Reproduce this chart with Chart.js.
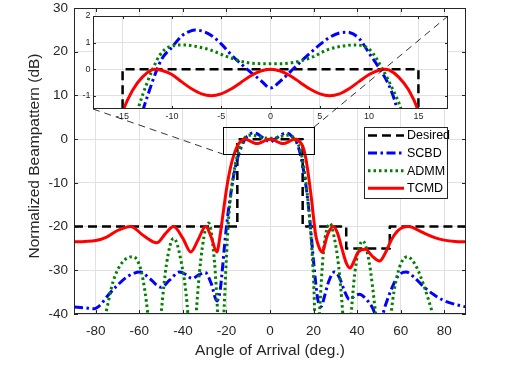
<!DOCTYPE html>
<html><head><meta charset="utf-8">
<script src="https://cdn.jsdelivr.net/npm/chart.js@4/dist/chart.umd.min.js"></script>
<style>
html,body{margin:0;padding:0;background:#fff;}
#wrap{position:relative;width:505px;height:367px;}
#wrap canvas{position:absolute;left:0;top:0;}
</style></head><body>
<div id="wrap"><canvas id="main" width="505" height="367"></canvas><canvas id="inset" width="505" height="367"></canvas></div>
<script>
// ---------- data ----------
const xTicks = [-80,-60,-40,-20,0,20,40,60,80];
const yTicks = [-40,-30,-20,-10,0,10,20,30];
const insetXTicks = [-15,-10,-5,0,5,10,15];
const insetYTicks = [-1,0,1,2];
const seriesNames = ['Desired','SCBD','ADMM','TCMD'];
const xTitle = 'Angle of Arrival (deg.)';
const yTitle = 'Normalized Beampattern (dB)';

const desiredAngles = [-90,-15,-15,15,15,35,35,55,55,90];
const desiredDb     = [-20,-20,0,0,-20,-20,-25,-25,-20,-20];

const scbdAngles = [-90,-85,-81,-78,-75,-70,-65,-59.6,-55,-50.1,-46,-41.6,-38.5,-35.9,-32.5,-29.8,-27,-24.4,-23,-22,-21,-20,-19,-18,-17,-16,-15,-14,-12.9,-12,-11.5,-11,-10,-9,-8,-7.66,-7,-6,-5,-4,-3,-2,-1,0,1,2,3,4,5,6,7,7.7,8,9,10,11,12,12.8,14,15,16,17,18,19,20,21,22,23.5,25,27,29.6,32,34,36.5,39,41.1,44,47,50.3,53,56,59,62.5,66,70,75,79.3,85,90];
const scbdDb = [-38.4,-38.6,-38.8,-38.0,-36.1,-33.4,-31.3,-30.4,-32.0,-33.9,-32.2,-30.4,-31.0,-31.9,-31.0,-30.5,-33.0,-37.0,-35.0,-30.5,-25.0,-20.0,-16.0,-12.5,-9.2,-6.6,-4.5,-2.9,-1.5,-0.5,0,0.4,0.82,1.25,1.45,1.47,1.44,1.27,0.95,0.55,0.2,-0.12,-0.42,-0.71,-0.45,-0.1,0.26,0.6,0.92,1.2,1.36,1.39,1.38,1.15,0.6,0.05,-0.6,-1.45,-3.6,-6.0,-9.0,-12.5,-17.0,-22.5,-28.0,-33.0,-36.8,-38.3,-36.0,-32.5,-30.4,-31.8,-34.5,-36.7,-35.8,-35.5,-36.5,-38.5,-42.0,-38.0,-34.0,-31.2,-30.4,-31.5,-33.5,-35.5,-36.8,-37.8,-38.4];

const admmAngles = [-90,-85,-80,-75.5,-72,-68,-63,-59,-56.1,-53,-50,-47.5,-44.3,-41,-37.7,-35.8,-33.9,-31,-28.2,-25.5,-24,-22.4,-21,-20,-19,-18,-17,-16,-15,-14,-13.4,-12.5,-11.9,-11.2,-10.2,-8.7,-7.5,-6.1,-4.4,-2.4,0,2.3,4.35,5.7,7.2,8.6,10.1,11.3,12.5,13.2,14,15,16,17,18,19,20,21.5,22.7,24.5,26,27.6,29.5,31.5,33.4,35.3,37.3,39.5,42.6,45.5,48.5,52.5,55.6,58.5,63,67,71,74.7,80,85,90];
const admmDb = [-62,-56,-48,-40,-32.5,-28.3,-26.9,-30.5,-40,-58,-40,-28.5,-22.7,-27.5,-40,-58,-40,-24.5,-19.2,-28,-40,-55,-38,-27,-18,-12.8,-9.0,-6.0,-3.8,-2.3,-1.46,-0.5,0.04,0.54,0.85,0.91,0.85,0.72,0.47,0.25,0.2,0.25,0.47,0.72,0.86,0.91,0.72,0.04,-0.84,-1.46,-2.6,-4.8,-8.0,-12.0,-17.0,-23.5,-32,-52,-40,-26,-20.8,-19.3,-22.5,-29,-40,-58,-40,-28.5,-23.3,-28,-40,-60,-40,-31,-26.9,-29,-34,-40,-50,-57,-62];

const tcmdAngles = [-90,-85,-80,-75,-70,-64,-58,-52,-48,-44.3,-40,-36.4,-33,-29.5,-27,-24.4,-23,-22,-21,-20,-19,-18,-17,-16,-15,-14,-13,-12,-11.7,-11,-10,-9,-8,-7,-6,-5,-4,-3,-2,-1,0,1,2,3,4,5,6,7,8,9,10,11,11.6,12,13,14,15,16,17,18,19,20,21,22,23,24.1,25,26.5,29.1,31,33,35,36.8,38.5,40.5,43.8,47,50.3,53,56,59,63.6,68,72,76,80,85,90];
const tcmdDb = [-23.5,-23.4,-23.2,-22.4,-20.9,-20.0,-22.1,-23.7,-21.6,-20.0,-22.7,-25.8,-23.0,-19.9,-22.4,-25.8,-22.3,-18.7,-15.0,-11.5,-8.6,-6.2,-4.3,-2.8,-1.6,-0.8,-0.3,-0.02,0,-0.05,-0.2,-0.48,-0.74,-0.93,-1.0,-0.93,-0.75,-0.5,-0.25,-0.07,0,-0.07,-0.25,-0.5,-0.75,-0.93,-1.0,-0.93,-0.73,-0.46,-0.2,-0.04,0,-0.03,-0.3,-0.78,-1.6,-3.3,-6.0,-9.6,-13.5,-18.0,-22.0,-24.0,-25.3,-25.9,-24.4,-21.8,-20.0,-21.5,-25.0,-28.3,-29.5,-28.0,-25.8,-25.2,-26.8,-27.9,-26.0,-22.8,-20.8,-20.0,-20.8,-21.8,-22.6,-23.1,-23.4,-23.5];

// ---------- styling ----------
const FONT = '"Liberation Sans", Arial, Helvetica, sans-serif';
const TXT = '#262626';
const GRID = '#e1e1e1';
const styles = [
  {color:'#000000', width:2.5, dash:[9,5], smooth:false},
  {color:'#0000ff', width:3, dash:[9,3.5,2.5,3.5], smooth:true},
  {color:'#008000', width:3, dash:[2.5,3], smooth:true},
  {color:'#ff0000', width:3, dash:[], smooth:true}
];
const zoomBox = {x0:-21.7, x1:20.1, y0:-3.4, y1:2.7};

function makeDatasets(){
  const src = [[desiredAngles,desiredDb],[scbdAngles,scbdDb],[admmAngles,admmDb],[tcmdAngles,tcmdDb]];
  return src.map(([a,v],i)=>({
    label: seriesNames[i],
    data: a.map((x,k)=>({x:x, y:v[k]})),
    borderColor: styles[i].color,
    backgroundColor: styles[i].color,
    borderWidth: styles[i].width,
    borderDash: styles[i].dash,
    borderCapStyle: 'butt',
    borderJoinStyle: 'round',
    pointRadius: 0,
    fill: false,
    tension: 0,
    cubicInterpolationMode: styles[i].smooth ? 'monotone' : 'default',
    order: 3 - i,
    clip: 0
  }));
}

const boxPlugin = {
  id: 'boxTicks',
  afterDatasetsDraw(chart, args, opts){
    const {ctx, chartArea:a, scales:{x, y}} = chart;
    const L = opts.tickLen || 4;
    ctx.save();
    ctx.setLineDash([]);
    ctx.strokeStyle = opts.color || TXT;
    ctx.lineWidth = 1;
    ctx.beginPath();
    x.ticks.forEach(t=>{
      const p = Math.round(x.getPixelForValue(t.value)) + 0.5;
      ctx.moveTo(p, a.bottom); ctx.lineTo(p, a.bottom - L);
      ctx.moveTo(p, a.top); ctx.lineTo(p, a.top + L);
    });
    y.ticks.forEach(t=>{
      const p = Math.round(y.getPixelForValue(t.value)) + 0.5;
      ctx.moveTo(a.left, p); ctx.lineTo(a.left + L, p);
      ctx.moveTo(a.right, p); ctx.lineTo(a.right - L, p);
    });
    ctx.stroke();
    ctx.strokeRect(Math.round(a.left)+0.5, Math.round(a.top)+0.5, Math.round(a.right-a.left)-1, Math.round(a.bottom-a.top)-1);
    ctx.restore();
  }
};

const mainOverlay = {
  id: 'mainOverlay',
  afterDraw(chart){
    const {ctx, chartArea:a, scales:{x, y}} = chart;
    ctx.save();
    ctx.setLineDash([]);
    // y-axis title
    ctx.save();
    ctx.translate(35, (a.top + a.bottom)/2 - 5);
    ctx.rotate(-Math.PI/2);
    ctx.font = '15.5px ' + FONT; ctx.fillStyle = TXT;
    ctx.textAlign = 'center'; ctx.textBaseline = 'middle';
    ctx.fillText(yTitle, 0, 0);
    ctx.restore();
    // zoom rectangle
    ctx.strokeStyle = '#000'; ctx.lineWidth = 1;
    const rx0 = Math.round(x.getPixelForValue(zoomBox.x0))+0.5, rx1 = Math.round(x.getPixelForValue(zoomBox.x1))+0.5;
    const ry0 = Math.round(y.getPixelForValue(zoomBox.y1))+0.5, ry1 = Math.round(y.getPixelForValue(zoomBox.y0))+0.5;
    ctx.strokeRect(rx0, ry0, rx1-rx0, ry1-ry0);
    // legend
    const lx = Math.round(a.right) - 102, ly = Math.round(a.top) + 119, lw = 83, lh = 71;
    ctx.fillStyle = '#fff';
    ctx.fillRect(lx, ly, lw, lh);
    ctx.strokeStyle = TXT; ctx.lineWidth = 1;
    ctx.strokeRect(lx+0.5, ly+0.5, lw, lh);
    ctx.font = '12.5px ' + FONT;
    ctx.textBaseline = 'middle';
    ctx.textAlign = 'left';
    chart.data.datasets.forEach((ds, i)=>{
      const cy = ly + 8.5 + i*17.6;
      ctx.strokeStyle = ds.borderColor;
      ctx.lineWidth = ds.borderWidth;
      ctx.setLineDash(ds.borderDash);
      ctx.lineCap = 'butt';
      ctx.beginPath(); ctx.moveTo(lx+4, cy); ctx.lineTo(lx+40, cy); ctx.stroke();
      ctx.setLineDash([]);
      ctx.fillStyle = '#000';
      ctx.fillText(ds.label, lx+43, cy+0.5);
    });
    ctx.restore();
  }
};

function scaleCommon(ticksArr, size, pad, fit, isX){
  return {
    type: 'linear',
    afterBuildTicks: s=>{ s.ticks = ticksArr.map(v=>({value:v})); },
    afterFit: s=>{ if(isX) s.height = fit; else s.width = fit; },
    grid: {color: GRID, lineWidth: 1, drawTicks: false},
    border: {display: false},
    ticks: {color: TXT, font: {family: FONT, size: size, lineHeight: isX ? 1.1 : 0.1}, padding: pad, maxRotation: 0, autoSkip: false}
  };
}

const mx = scaleCommon(xTicks, 13.5, 10, 53, true);
mx.min = -90; mx.max = 90;
mx.title = {display: true, text: xTitle, color: TXT, font: {family: FONT, size: 15.5}, padding: {top: 0, bottom: 6.7}};
const my = scaleCommon(yTicks, 13.5, 6, 74, false);
my.min = -40; my.max = 30;

const mainChart = new Chart(document.getElementById('main'), {
  type: 'line',
  data: {datasets: makeDatasets()},
  options: {
    responsive: false, animation: false, devicePixelRatio: 1,
    layout: {padding: {left: 0, top: 8, right: 39, bottom: 0}},
    scales: {x: mx, y: my},
    plugins: {legend: {display: false}, tooltip: {enabled: false}, boxTicks: {tickLen: 4, color: TXT}}
  },
  plugins: [boxPlugin, mainOverlay]
});

const ix = scaleCommon(insetXTicks, 9, 2.6, 258, true);
ix.min = -18; ix.max = 18;
const iy = scaleCommon(insetYTicks, 9, 2.5, 93, false);
iy.min = -1.5; iy.max = 2;

const insetOverlay = {
  id: 'insetOverlay',
  beforeDraw(chart){
    const {ctx, chartArea:a} = chart;
    ctx.save(); ctx.fillStyle = '#fff';
    ctx.fillRect(a.left, a.top, a.right-a.left, a.bottom-a.top);
    ctx.restore();
  },
  afterDraw(chart){
    const {ctx, chartArea:a} = chart;
    const x = mainChart.scales.x, y = mainChart.scales.y;
    const bl = [x.getPixelForValue(zoomBox.x0), y.getPixelForValue(zoomBox.y0)];
    const tr = [x.getPixelForValue(zoomBox.x1), y.getPixelForValue(zoomBox.y1)];
    ctx.save();
    ctx.strokeStyle = '#000'; ctx.lineWidth = 0.8; ctx.setLineDash([7,5]);
    ctx.beginPath();
    ctx.moveTo(a.left, a.bottom); ctx.lineTo(bl[0], bl[1]);
    ctx.moveTo(tr[0], tr[1]); ctx.lineTo(a.right, a.top);
    ctx.stroke();
    ctx.restore();
  }
};

new Chart(document.getElementById('inset'), {
  type: 'line',
  data: {datasets: makeDatasets()},
  options: {
    responsive: false, animation: false, devicePixelRatio: 1,
    layout: {padding: {left: 0, top: 16, right: 57, bottom: 0}},
    scales: {x: ix, y: iy},
    plugins: {legend: {display: false}, tooltip: {enabled: false}, boxTicks: {tickLen: 3, color: TXT}}
  },
  plugins: [boxPlugin, insetOverlay]
});
</script>
</body></html>
